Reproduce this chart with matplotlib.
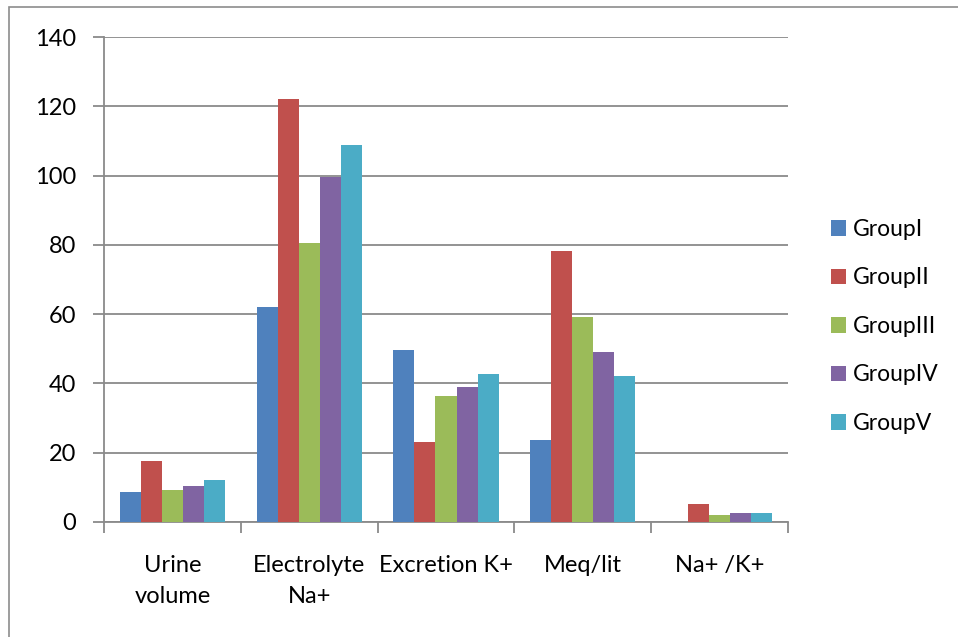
import numpy as np
import matplotlib.pyplot as plt
from matplotlib.patches import Rectangle

plt.rcParams['font.family'] = ['Lato', 'DejaVu Sans']

categories = ["Urine\nvolume", "Electrolyte\nNa+", "Excretion K+", "Meq/lit", "Na+ /K+"]
groups = ["GroupI", "GroupII", "GroupIII", "GroupIV", "GroupV"]
group1 = [8.7, 62.0, 49.6, 23.8, 0.0]
group2 = [17.5, 122.0, 23.0, 78.3, 5.3]
group3 = [9.3, 80.5, 36.4, 59.3, 2.1]
group4 = [10.5, 99.5, 39.0, 49.2, 2.5]
group5 = [12.2, 108.9, 42.8, 42.2, 2.6]
colors = ["#4F81BD", "#C0504D", "#9BBB59", "#8064A2", "#4BACC6"]

W, H = 958, 637
fig = plt.figure(figsize=(W / 100, H / 100), dpi=100)
ax = fig.add_axes([104 / W, 1 - 522 / H, (788 - 104) / W, (522 - 37) / H])

# chart border
fig.patches.append(Rectangle((9 / W, -0.1), 1.2, 1 - 7 / H + 0.1, transform=fig.transFigure,
                             fill=False, edgecolor="#8c8c8c", linewidth=1.2))

x = np.arange(len(categories))
bw = 1 / 6.5
series = [group1, group2, group3, group4, group5]
for i, (vals, name, c) in enumerate(zip(series, groups, colors)):
    ax.bar(x + (i - 2) * bw, vals, width=bw, color=c, label=name, zorder=3)

ax.set_xlim(-0.5, len(categories) - 0.5)
ax.set_ylim(0, 140)
ax.set_yticks(np.arange(0, 141, 20))
ax.yaxis.grid(True, color="#8a8a8a", linewidth=1.3, zorder=0)

ax.set_xticks(x)
ax.set_xticklabels(categories, linespacing=1.55)
ax.set_xticks(np.arange(-0.5, len(categories)), minor=True)
ax.tick_params(axis="x", which="major", length=0, pad=24, labelsize=17)
ax.tick_params(axis="x", which="minor", length=8, width=1.3, color="#8a8a8a", direction="out")
ax.tick_params(axis="y", length=8, width=1.3, color="#8a8a8a", pad=12, labelsize=17)

for side in ("top", "right"):
    ax.spines[side].set_visible(False)
for side in ("left", "bottom"):
    ax.spines[side].set_color("#8a8a8a")
    ax.spines[side].set_linewidth(1.3)

fig.legend(loc="upper left", bbox_to_anchor=(831 / W, 1 - 219 / H), frameon=False,
           fontsize=16.5, handlelength=0.66, handleheight=0.66, handletextpad=0.3,
           labelspacing=1.2, borderpad=0, borderaxespad=0)

fig.savefig("out.png", dpi=100)
